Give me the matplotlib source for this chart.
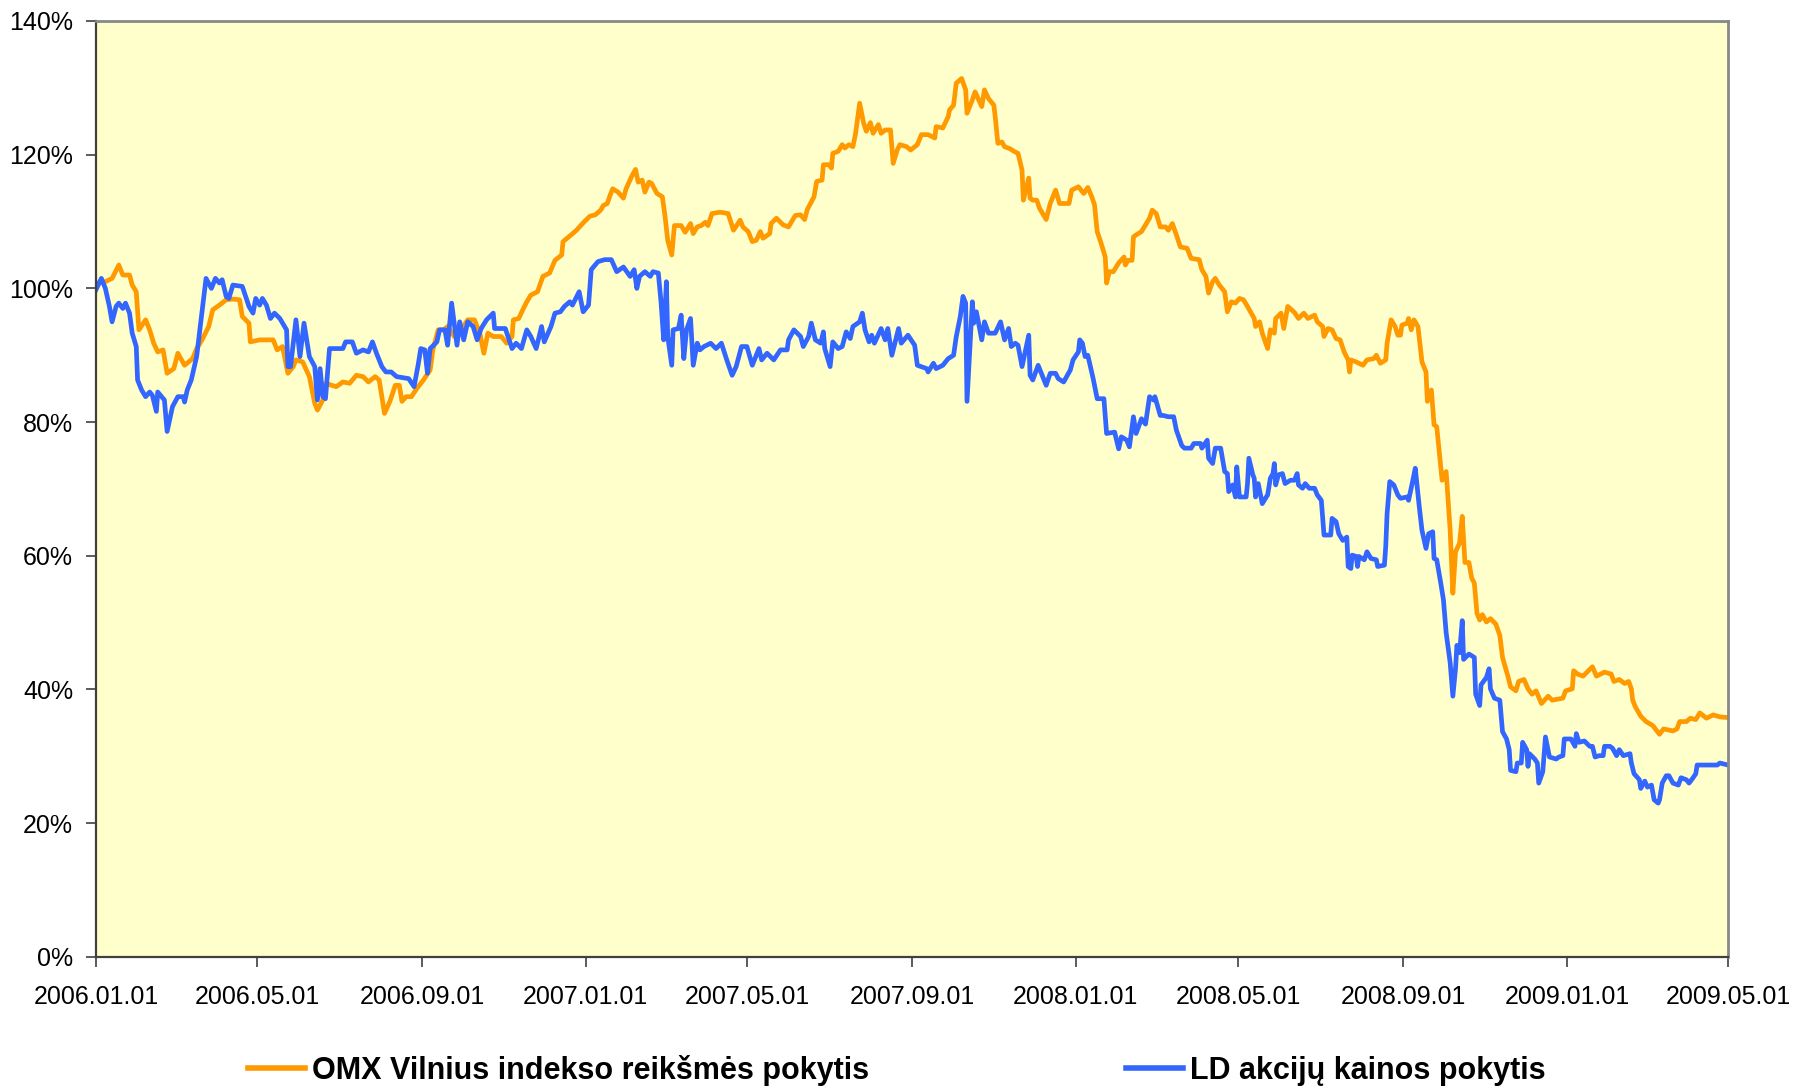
import numpy as np
import matplotlib.pyplot as plt
import matplotlib.dates as mdates
from matplotlib.ticker import FuncFormatter
from matplotlib.lines import Line2D

plt.rcParams['font.family'] = ['Liberation Sans', 'DejaVu Sans']

# ---- data (days since 2006-01-01, value in %) ----
start = np.datetime64('2006-01-01')

omx_days = [0, 7, 12, 17, 20, 25, 27, 30, 32, 37, 40, 43, 46, 50, 53, 58, 61, 66, 72, 75, 79, 84, 87, 92,
            97, 102, 107, 109, 114, 115, 122, 132, 135, 139, 143, 147, 149, 154, 159, 163, 165, 169, 171,
            179, 184, 189, 194, 199, 203, 208, 211, 215, 219, 223, 226, 228, 231, 235, 239, 244, 249, 251,
            255, 259, 262, 267, 272, 277, 282, 286, 289, 292, 296, 302, 306, 310, 311, 315, 318, 321, 324,
            329, 333, 338, 342, 347, 348, 354, 358, 363, 368, 372, 376, 378, 381, 383, 385, 389, 393, 395,
            399, 402, 404, 407, 409, 412, 414, 418, 422, 424, 426, 429, 431, 436, 439, 443, 445, 448, 451,
            454, 456, 459, 465, 471, 475, 480, 482, 486, 489, 492, 495, 497, 502, 503, 507, 512, 516, 521,
            525, 528, 530, 535, 537, 541, 542, 546, 548, 549, 553, 556, 558, 561, 564, 566, 569, 572, 574,
            577, 579, 583, 585, 588, 592, 594, 597, 599, 604, 607, 612, 615, 620, 625, 626, 631, 635, 636,
            639, 641, 645, 648, 649, 653, 655, 660, 662, 665, 669, 670, 672, 675, 677, 681, 684, 687, 690,
            691, 695, 696, 698, 701, 703, 708, 711, 715, 718, 725, 727, 732, 736, 739, 742, 744, 746, 749,
            752, 753, 755, 758, 762, 766, 767, 769, 772, 773, 775, 779, 782, 785, 787, 790, 793, 797, 799,
            802, 805, 808, 813, 816, 822, 824, 827, 829, 832, 834, 837, 841, 843, 846, 849, 852, 855, 858,
            863, 864, 867, 869, 873, 875, 878, 879, 883, 885, 888, 893, 896, 900, 903, 908, 910, 914, 915,
            918, 921, 924, 927, 930, 933, 934, 935, 939, 944, 947, 952, 954, 957, 961, 962, 965, 968, 970,
            972, 973, 977, 978, 980, 982, 985, 986, 988, 991, 992, 995, 997, 999, 1003, 1006, 1009, 1011,
            1013, 1016, 1018, 1020, 1023, 1025, 1027, 1029, 1031, 1033, 1036, 1039, 1043, 1046, 1048, 1052,
            1054, 1058, 1060, 1064, 1067, 1070, 1073, 1077, 1082, 1085, 1093, 1095, 1100, 1101, 1104, 1108,
            1111, 1115, 1118, 1124, 1129, 1131, 1135, 1139, 1142, 1144, 1145, 1147, 1151, 1155, 1160, 1165,
            1168, 1175, 1178, 1180, 1185, 1188, 1192, 1195, 1200, 1205, 1210, 1216]
omx_vals = [100.8, 101, 101.5, 103.5, 102, 102, 100.5, 99.5, 93.8, 95.3, 93.8, 91.8, 90.5, 90.8, 87.3, 88.0,
            90.3, 88.5, 89.5, 91.0, 92.3, 94.3, 96.8, 97.5, 98.3, 98.4, 98.3, 95.8, 94.8, 92.0, 92.3, 92.3,
            90.8, 91.3, 87.3, 88.3, 89.3, 89.0, 86.8, 82.8, 81.8, 83.3, 85.8, 85.3, 86.0, 85.8, 87.0, 86.8,
            86.0, 86.8, 86.3, 81.3, 83.1, 85.5, 85.5, 83.1, 83.8, 83.8, 85.0, 86.3, 87.8, 90.8, 93.8, 93.8,
            94.3, 92.8, 93.8, 95.3, 95.3, 93.3, 90.3, 93.3, 92.8, 92.8, 91.8, 92.8, 95.3, 95.5, 96.8, 98.0,
            99.0, 99.5, 101.8, 102.3, 104.2, 105.0, 107.0, 108.0, 108.7, 109.8, 110.8, 111.0, 111.7, 112.4,
            112.7, 113.9, 114.9, 114.4, 113.5, 114.9, 116.7, 117.8, 115.9, 116.2, 114.4, 115.9, 115.7, 114.2,
            113.7, 110.8, 107.2, 105.0, 109.4, 109.4, 108.4, 109.7, 108.2, 109.2, 109.4, 109.9, 109.4, 111.2,
            111.4, 111.2, 108.7, 110.2, 109.2, 108.5, 107.0, 107.2, 108.5, 107.5, 108.2, 109.7, 110.5, 109.5,
            109.2, 110.9, 111.0, 110.3, 111.8, 113.7, 116.0, 116.2, 118.5, 118.5, 118.0, 120.2, 120.5, 121.5,
            121.0, 121.5, 121.2, 123.2, 127.7, 124.7, 123.5, 124.8, 123.2, 124.5, 123.2, 123.7, 123.7, 118.7,
            120.7, 121.5, 121.2, 120.7, 121.5, 123.0, 123.0, 122.5, 124.2, 124.0, 125.7, 126.7, 127.4, 130.7,
            131.4, 129.7, 126.2, 128.2, 129.4, 127.2, 129.7, 128.4, 127.4, 125.7, 121.7, 121.9, 121.2, 120.9,
            120.5, 120.2, 117.7, 113.2, 116.5, 113.5, 113.2, 113.2, 112.0, 110.3, 112.7, 114.7, 112.7, 112.7,
            114.7, 115.2, 114.2, 115.1, 113.7, 112.5, 108.5, 106.7, 104.7, 100.8, 102.5, 102.5, 103.8, 104.7,
            103.5, 104.2, 104.2, 107.7, 108.0, 108.5, 109.5, 110.5, 111.7, 111.2, 109.2, 109.2, 108.7, 109.7,
            108.0, 106.2, 106.0, 104.5, 104.3, 102.8, 101.8, 99.3, 101.0, 101.5, 100.5, 99.5, 96.5, 98.0,
            97.8, 98.5, 98.3, 97.3, 95.5, 94.3, 95.0, 93.3, 91.0, 93.8, 93.3, 95.5, 96.3, 94.0, 97.3, 96.4,
            95.5, 96.3, 95.5, 96.0, 95.0, 94.3, 92.8, 94.0, 93.8, 92.5, 92.3, 90.5, 89.3, 87.5, 89.3, 89.0,
            88.5, 89.3, 89.5, 90.0, 88.8, 89.3, 91.8, 95.3, 94.3, 93.0, 93.0, 94.5, 94.8, 95.5, 93.8, 95.3,
            94.3, 92.5, 89.0, 87.5, 83.1, 84.8, 79.6, 79.3, 71.3, 72.6, 63.8, 54.4, 60.6, 61.9, 65.9, 59.0,
            59.0, 56.7, 55.9, 51.4, 50.4, 51.2, 50.1, 50.6, 49.8, 48.1, 44.8, 42.0, 40.4, 39.8, 41.2, 41.5,
            40.1, 39.3, 39.8, 37.9, 39.0, 38.4, 38.7, 39.8, 40.1, 42.8, 42.3, 42.0, 42.6, 43.4, 42.0, 42.6,
            42.3, 41.2, 41.5, 40.9, 41.2, 40.1, 38.4, 37.4, 36.0, 35.2, 34.6, 33.3, 34.1, 33.8, 34.1, 35.2,
            35.2, 35.7, 35.5, 36.5, 35.7, 36.2, 35.9, 35.8]

ld_days = [0, 4, 7, 10, 12, 15, 17, 20, 22, 25, 27, 30, 31, 34, 37, 40, 42, 45, 46, 51, 53, 57, 61, 65, 66,
           68, 71, 75, 78, 82, 86, 89, 92, 94, 97, 99, 102, 109, 114, 117, 119, 122, 124, 127, 130, 133, 137,
           142, 143, 145, 149, 152, 155, 159, 163, 165, 167, 169, 171, 174, 184, 186, 191, 194, 199, 203, 206,
           209, 213, 216, 220, 224, 233, 237, 240, 242, 245, 247, 249, 254, 256, 260, 262, 265, 269, 271, 274,
           277, 281, 284, 287, 291, 296, 297, 305, 310, 313, 317, 321, 324, 328, 332, 334, 339, 342, 346, 349,
           353, 355, 360, 363, 367, 369, 374, 379, 384, 388, 393, 398, 401, 403, 405, 409, 413, 415, 419, 421,
           423, 425, 426, 429, 430, 434, 436, 438, 440, 443, 445, 448, 450, 453, 458, 462, 466, 470, 474, 477,
           481, 485, 489, 494, 496, 500, 505, 510, 515, 516, 520, 525, 527, 531, 533, 536, 540, 542, 543, 547,
           549, 553, 556, 559, 562, 564, 569, 571, 573, 576, 578, 580, 585, 588, 590, 593, 598, 600, 605, 610,
           612, 619, 620, 624, 626, 631, 635, 639, 641, 644, 646, 648, 649, 653, 654, 656, 660, 662, 665, 670,
           674, 677, 680, 682, 685, 687, 690, 695, 696, 698, 702, 705, 708, 711, 715, 717, 721, 726, 728, 732,
           733, 735, 737, 739, 743, 746, 751, 753, 759, 762, 764, 768, 770, 773, 775, 779, 782, 785, 788, 789,
           793, 795, 799, 803, 805, 809, 811, 816, 818, 823, 824, 828, 829, 832, 834, 838, 841, 843, 844, 847,
           849, 850, 852, 857, 858, 859, 862, 863, 864, 866, 869, 872, 873, 875, 877, 878, 879, 881, 884, 886,
           890, 893, 895, 896, 899, 901, 904, 908, 910, 913, 914, 915, 920, 921, 924, 926, 929, 932, 933, 935,
           936, 939, 940, 941, 945, 947, 950, 954, 955, 960, 961, 962, 964, 967, 970, 972, 977, 978, 981, 983,
           986, 988, 991, 993, 996, 997, 999, 1002, 1004, 1006, 1009, 1011, 1013, 1014, 1016, 1018, 1019, 1023,
           1027, 1028, 1031, 1032, 1036, 1038, 1039, 1042, 1046, 1048, 1051, 1053, 1054, 1058, 1059, 1062, 1063,
           1066, 1067, 1068, 1072, 1074, 1075, 1078, 1080, 1083, 1088, 1090, 1093, 1094, 1099, 1102, 1103, 1105,
           1109, 1113, 1115, 1117, 1120, 1123, 1124, 1128, 1130, 1133, 1135, 1138, 1143, 1144, 1146, 1150, 1151,
           1154, 1156, 1159, 1161, 1164, 1165, 1167, 1170, 1172, 1175, 1179, 1181, 1185, 1187, 1190, 1192, 1193,
           1200, 1208, 1210, 1216]
ld_vals = [99.8, 101.5, 100, 97.3, 95.0, 97.3, 97.8, 97.0, 97.8, 96.3, 93.3, 91.3, 86.3, 84.8, 83.8, 84.5, 84.0,
           81.6, 84.5, 83.3, 78.6, 82.3, 83.8, 83.8, 83.0, 84.8, 86.3, 89.8, 94.8, 101.5, 100.0, 101.5, 100.8,
           101.3, 98.8, 98.5, 100.5, 100.3, 97.3, 96.3, 98.5, 97.5, 98.5, 97.5, 95.5, 96.3, 95.5, 93.8, 88.3,
           88.3, 95.3, 89.8, 94.8, 89.8, 88.3, 83.3, 88.0, 83.8, 83.5, 91.0, 91.0, 92.0, 92.0, 90.3, 90.8, 90.5,
           92.0, 90.3, 88.3, 87.5, 87.5, 86.8, 86.5, 85.3, 88.5, 91.0, 90.8, 87.3, 91.0, 92.0, 93.8, 93.8, 91.5,
           97.8, 91.5, 95.0, 92.3, 95.0, 94.3, 92.3, 94.0, 95.3, 96.3, 94.0, 94.0, 91.0, 91.8, 91.0, 93.8, 92.8,
           91.0, 94.3, 92.0, 94.3, 96.3, 96.5, 97.3, 98.0, 97.5, 99.5, 96.5, 97.5, 102.8, 104.0, 104.3, 104.3,
           102.5, 103.2, 101.8, 102.8, 100.0, 101.8, 102.5, 101.8, 102.5, 102.3, 98.0, 92.3, 101.0, 92.8, 88.5,
           93.8, 94.0, 96.0, 89.5, 93.8, 95.5, 88.5, 91.8, 90.8, 91.3, 91.8, 91.0, 91.8, 89.3, 87.0, 88.3, 91.3,
           91.3, 88.5, 91.0, 89.3, 90.3, 89.3, 90.8, 90.8, 92.3, 93.8, 92.8, 91.3, 92.8, 94.8, 92.3, 91.8, 93.5,
           91.0, 88.3, 92.0, 91.0, 91.3, 93.5, 92.5, 94.3, 95.0, 96.3, 93.8, 92.0, 93.0, 91.8, 94.0, 92.3, 94.0,
           90.0, 94.0, 91.8, 93.0, 91.5, 88.5, 88.0, 87.5, 88.8, 88.0, 88.5, 89.5, 90.0, 92.8, 95.8, 98.8, 97.8,
           83.1, 98.0, 94.8, 96.5, 92.3, 95.0, 93.3, 93.3, 95.0, 92.3, 94.0, 91.3, 91.8, 91.5, 88.3, 93.0, 87.0,
           86.3, 88.5, 87.0, 85.5, 87.3, 87.3, 86.5, 86.0, 87.8, 89.3, 90.5, 92.3, 91.8, 89.8, 90.0, 86.5, 83.5,
           83.5, 78.3, 78.5, 76.0, 77.8, 77.3, 76.3, 80.8, 78.3, 80.5, 79.7, 83.8, 83.3, 83.8, 81.0, 81.0, 80.8,
           80.8, 78.8, 76.5, 76.1, 76.1, 76.8, 76.8, 76.1, 77.3, 74.6, 73.8, 76.1, 76.1, 72.6, 72.3, 69.6, 70.6,
           68.8, 73.3, 68.8, 68.8, 70.8, 74.6, 72.1, 71.6, 68.8, 70.8, 67.8, 68.8, 69.1, 71.6, 72.3, 73.8, 70.6,
           72.1, 72.3, 70.8, 71.3, 71.3, 72.3, 70.6, 70.1, 70.8, 70.1, 70.1, 69.1, 68.3, 65.8, 63.1, 63.1, 65.6,
           65.1, 63.3, 62.3, 62.8, 58.4, 58.1, 60.1, 59.9, 58.4, 59.9, 59.4, 60.6, 59.6, 59.4, 58.4, 58.6, 61.4,
           66.3, 71.1, 70.6, 69.1, 68.6, 68.8, 68.3, 71.1, 73.1, 67.3, 63.8, 61.1, 63.3, 63.6, 59.6, 59.4, 55.9,
           53.4, 48.5, 44.0, 39.0, 43.1, 46.6, 45.5, 50.3, 44.5, 45.3, 44.8, 39.3, 37.6, 40.7, 41.8, 43.1, 40.1,
           38.7, 38.4, 33.7, 32.6, 31.0, 27.9, 27.7, 29.0, 29.0, 32.1, 31.0, 28.5, 30.4, 29.6, 29.0, 26.0, 27.7,
           32.9, 29.9, 29.6, 29.9, 30.1, 32.6, 32.6, 31.5, 33.4, 32.1, 32.3, 31.5, 31.5, 29.9, 30.1, 30.1, 31.5,
           31.5, 31.2, 30.1, 31.0, 30.1, 30.4, 29.0, 27.4, 26.5, 25.2, 26.3, 25.4, 25.7, 23.5, 23.0, 23.5, 26.0,
           27.1, 27.1, 26.0, 25.7, 26.8, 26.5, 26.0, 26.8, 27.4, 28.7, 28.7, 28.7, 29.0, 28.7]

tick_dates = ['2006-01-01', '2006-05-01', '2006-09-01', '2007-01-01', '2007-05-01', '2007-09-01',
              '2008-01-01', '2008-05-01', '2008-09-01', '2009-01-01', '2009-05-01']
y_ticks = [0, 20, 40, 60, 80, 100, 120, 140]

labels = ['OMX Vilnius indekso reikšmės pokytis', 'LD akcijų kainos pokytis']
colors = ['#FF9900', '#3366FF']

# ---- plot ----
fig = plt.figure(figsize=(17.94, 10.88), dpi=100)
ax = fig.add_axes([0.0535, 0.1205, 0.9097, 0.8602])
ax.set_facecolor('#FFFFCC')

omx_x = start + np.array(omx_days).astype('timedelta64[D]')
ld_x = start + np.array(ld_days).astype('timedelta64[D]')
ax.plot(omx_x, omx_vals, color=colors[0], lw=3.4, solid_joinstyle='round')
ax.plot(ld_x, ld_vals, color=colors[1], lw=3.4, solid_joinstyle='round')

ticks = [np.datetime64(d) for d in tick_dates]
ax.set_xlim(ticks[0], ticks[-1])
ax.set_xticks(ticks)
ax.xaxis.set_major_formatter(mdates.DateFormatter('%Y.%m.%d'))
ax.set_ylim(0, 140)
ax.set_yticks(y_ticks)
ax.yaxis.set_major_formatter(FuncFormatter(lambda v, p: f'{v:.0f}%'))

ax.tick_params(axis='both', direction='out', length=7, width=1.2, color='#404040',
               labelsize=18, labelcolor='black')
ax.tick_params(axis='y', pad=9.5)
ax.tick_params(axis='x', pad=13)

for side in ['left', 'bottom']:
    ax.spines[side].set_color('#404040')
    ax.spines[side].set_linewidth(1.6)
for side in ['top', 'right']:
    ax.spines[side].set_color('#888888')
    ax.spines[side].set_linewidth(2)

handles = [Line2D([], [], color=c, lw=4) for c in colors]
fig.legend(handles, labels, ncol=2, loc='center', bbox_to_anchor=(0.5, 0.016),
           frameon=False, handlelength=1.87, handletextpad=0.23, columnspacing=8.4,
           prop={'size': 22, 'weight': 'bold'}, borderaxespad=0, borderpad=0)

fig.savefig('out.png', dpi=100)
